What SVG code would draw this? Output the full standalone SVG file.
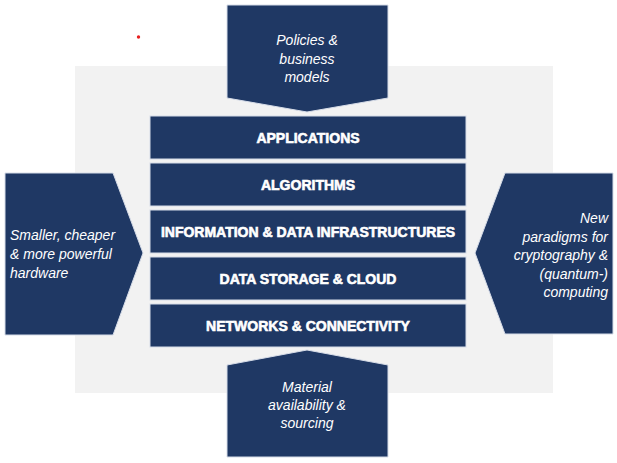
<svg xmlns="http://www.w3.org/2000/svg" width="617" height="463" viewBox="0 0 617 463">
<style>
.shape{fill:#1f3864;stroke:#d6dce8;stroke-width:1}
.lbl{font-family:"Liberation Sans",Arial,sans-serif;font-size:14px;font-weight:bold;fill:#fff;stroke:#fff;stroke-width:0.6;text-anchor:middle}
.it{font-family:"Liberation Sans",Arial,sans-serif;font-size:14px;font-style:italic;fill:#fff}
</style>
<rect x="0" y="0" width="617" height="463" fill="#fff"/>
<rect x="75" y="66" width="478" height="327" fill="#f2f2f2"/>
<circle cx="138.5" cy="37" r="1.7" fill="#e82020"/>
<g id="connectors"></g>
<g id="policies">
<polygon class="shape" points="227,5 388,5 388,98 307,112 227,98"/>
<text class="it" text-anchor="middle"><tspan x="307" y="45">Policies &amp;</tspan><tspan x="307" y="64">business</tspan><tspan x="307" y="82">models</tspan></text>
</g>
<g id="hardware">
<polygon class="shape" points="5,173 113,173 143,253 113,335 5,335"/>
<text class="it"><tspan x="10" y="240">Smaller, cheaper</tspan><tspan x="10" y="259">&amp; more powerful</tspan><tspan x="10" y="278">hardware</tspan></text>
</g>
<g id="paradigms">
<polygon class="shape" points="613,173 505,173 475,253 505,334 613,334"/>
<text class="it" text-anchor="end"><tspan x="608" y="223">New</tspan><tspan x="608" y="242">paradigms for</tspan><tspan x="608" y="260">cryptography &amp;</tspan><tspan x="608" y="279">(quantum-)</tspan><tspan x="608" y="297">computing</tspan></text>
</g>
<g id="material">
<polygon class="shape" points="227,365 307,350 388,365 388,457 227,457"/>
<text class="it" text-anchor="middle"><tspan x="307" y="392">Material</tspan><tspan x="307" y="410">availability &amp;</tspan><tspan x="307" y="428">sourcing</tspan></text>
</g>
<g id="applications">
<rect class="shape" x="150" y="116" width="316" height="43"/>
<text class="lbl" x="308" y="142.5">APPLICATIONS</text>
</g>
<g id="algorithms">
<rect class="shape" x="150" y="163" width="316" height="43"/>
<text class="lbl" x="308" y="189.5">ALGORITHMS</text>
</g>
<g id="information">
<rect class="shape" x="150" y="210" width="316" height="43"/>
<text class="lbl" x="308" y="236.5">INFORMATION &amp; DATA INFRASTRUCTURES</text>
</g>
<g id="storage">
<rect class="shape" x="150" y="257" width="316" height="43"/>
<text class="lbl" x="308" y="283.5">DATA STORAGE &amp; CLOUD</text>
</g>
<g id="networks">
<rect class="shape" x="150" y="304" width="316" height="43"/>
<text class="lbl" x="308" y="330.5">NETWORKS &amp; CONNECTIVITY</text>
</g>
</svg>
